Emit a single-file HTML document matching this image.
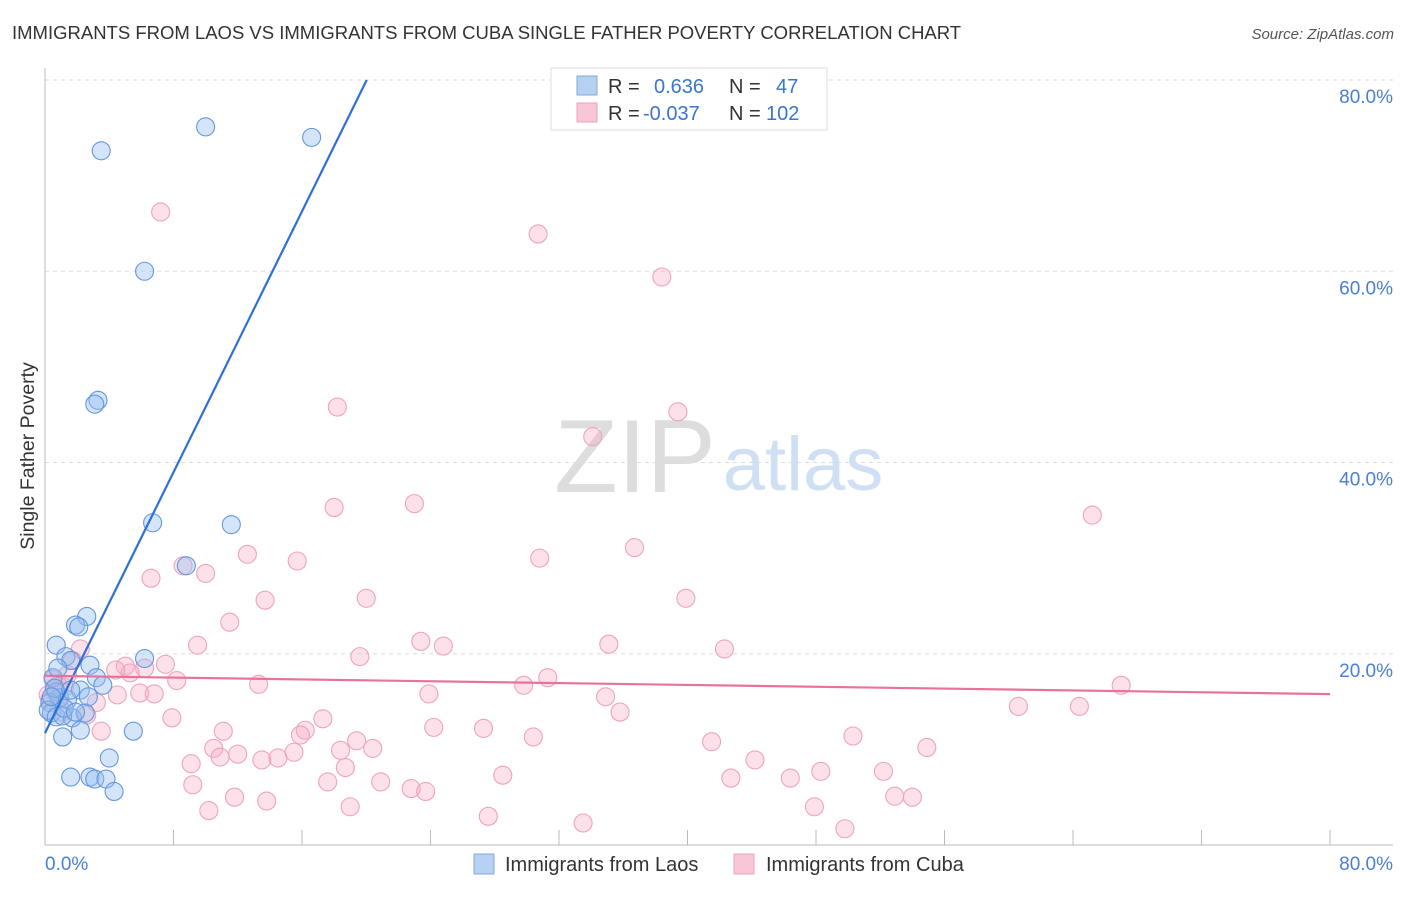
<!DOCTYPE html>
<html><head><meta charset="utf-8"><style>
body{margin:0;background:#fff;font-family:"Liberation Sans",sans-serif}
svg text{font-family:"Liberation Sans",sans-serif}
</style></head><body>
<svg id="chart" width="1406" height="892">
<text x="12" y="39" font-size="18.5" fill="#333">IMMIGRANTS FROM LAOS VS IMMIGRANTS FROM CUBA SINGLE FATHER POVERTY CORRELATION CHART</text>
<text x="1394" y="39" font-size="15" fill="#555" font-style="italic" text-anchor="end">Source: ZipAtlas.com</text>
<text x="34" y="456" font-size="19.5" fill="#333" text-anchor="middle" transform="rotate(-90 34 456)">Single Father Poverty</text>
<g>
<text x="635" y="492" font-size="104" fill="#ddd" font-family="Liberation Serif,serif" text-anchor="middle">ZIP</text>
<text x="803" y="490" font-size="76" fill="#cfe0f4" text-anchor="middle">atlas</text>
</g>
<g id="grid"></g><g id="pts"></g><g id="lines"></g>
<g>
<rect x="551" y="68" width="276" height="62" fill="#fff" stroke="#ddd"/>
<rect x="577" y="76" width="20" height="19" fill="#b7d1f3" stroke="#7fa8e3"/>
<rect x="577" y="103" width="20" height="19" fill="#f9c6d6" stroke="#eca1bb"/>
<text x="608" y="93" font-size="20" fill="#333">R =</text><text x="654" y="93" font-size="20" fill="#3a75d0">0.636</text>
<text x="729" y="93" font-size="20" fill="#333">N =</text><text x="776" y="93" font-size="20" fill="#3a75d0">47</text>
<text x="608" y="120" font-size="20" fill="#333">R =</text><text x="643" y="120" font-size="20" fill="#3a75d0">-0.037</text>
<text x="729" y="120" font-size="20" fill="#333">N =</text><text x="766" y="120" font-size="20" fill="#3a75d0">102</text>
</g>
<g>
<rect x="474" y="854" width="20" height="20" fill="#b7d1f3" stroke="#7fa8e3"/>
<text x="505" y="871" font-size="20" fill="#333">Immigrants from Laos</text>
<rect x="734" y="854" width="20" height="20" fill="#f9c6d6" stroke="#eca1bb"/>
<text x="766" y="871" font-size="20" fill="#333">Immigrants from Cuba</text>
</g>
</svg>
<script>
const yTicks=[20,40,60,80];
const xTicks=[0,8,16,24,32,40,48,56,64,72,80];
const xLabels=["0.0%","80.0%"];
const laosX=[10.0,3.5,16.6,6.2,3.3,3.1,6.7,11.6,8.8,2.6,1.9,2.1,0.7,6.2,1.3,1.6,2.8,3.2,3.6,0.5,0.7,2.2,2.7,0.9,0.3,1.4,0.4,0.2,0.7,1.7,1.1,2.5,2.2,1.1,5.5,4.0,1.6,2.8,3.1,3.8,4.3,0.6,0.4,1.6,1.2,0.8,1.9];
const laosY=[75.1,72.6,74.0,60.0,46.5,46.1,33.7,33.5,29.2,23.9,23.0,22.8,20.9,19.5,19.7,19.3,18.8,17.5,16.7,17.5,16.0,16.2,15.5,15.4,14.9,15.2,13.8,14.1,13.4,13.3,13.5,13.8,12.0,11.3,11.9,9.1,7.1,7.1,6.9,6.9,5.6,16.4,15.5,16.2,14.3,18.5,13.9];
const cubaX=[7.2,30.7,38.4,18.2,39.4,34.1,18.0,23.0,65.2,36.7,12.6,30.8,15.7,8.6,10.0,6.6,20.0,13.7,39.9,11.5,23.4,24.8,35.1,9.5,42.3,19.6,2.2,7.5,5.0,6.2,5.3,4.4,8.2,13.3,31.3,29.8,67.0,23.9,34.9,5.9,4.5,6.8,3.2,35.8,60.6,64.4,7.9,17.3,24.2,27.3,16.2,15.9,11.1,2.6,30.4,3.5,19.4,50.3,41.5,10.5,12.0,13.5,15.5,20.4,18.4,54.9,10.9,14.5,9.1,18.7,44.2,28.5,48.3,52.2,42.7,46.4,17.6,20.9,9.2,22.8,23.7,11.8,13.8,19.0,47.9,10.2,52.9,54.0,27.6,33.5,49.8,0.5,0.6,0.9,0.3,1.2,1.7,1.4,0.8,0.2,1.1];
const cubaY=[66.2,63.9,59.4,45.8,45.3,42.7,35.3,35.7,34.5,31.1,30.4,30.0,29.7,29.2,28.4,27.9,25.8,25.6,25.8,23.3,21.3,20.8,21.0,20.9,20.5,19.7,20.5,18.9,18.7,18.5,18.0,18.3,17.2,16.8,17.5,16.7,16.7,15.8,15.5,15.9,15.7,15.8,14.9,13.9,14.5,14.5,13.3,13.2,12.3,12.2,12.0,11.5,11.9,13.6,11.3,11.9,10.9,11.4,10.8,10.1,9.5,8.9,9.7,10.1,9.9,10.2,9.2,9.1,8.5,8.1,8.9,7.3,7.7,7.7,7.0,7.0,6.6,6.6,6.3,5.9,5.6,5.0,4.6,4.0,4.0,3.6,5.1,5.0,3.0,2.3,1.7,17.3,16.2,15.2,15.2,16.5,19.3,17.8,16.7,15.7,13.9];
const laosTrend=[11.7,3.41];
const cubaTrend=[17.7,-0.024];
const X=v=>45+v/80*1285, Y=v=>845-v/80*765;
const NS="http://www.w3.org/2000/svg";
function mk(t,a,p){const e=document.createElementNS(NS,t);for(const k in a)e.setAttribute(k,a[k]);p.appendChild(e);return e;}
const grid=document.getElementById('grid');
yTicks.forEach(t=>{
 const l=mk('line',{x1:45,x2:1393,y1:Y(t),y2:Y(t),stroke:'#ddd','stroke-dasharray':'4,4'},grid);
 
 
 const tx=mk('text',{x:1393,y:Y(t)+23,'font-size':19,fill:'#4a7fd4','text-anchor':'end'},grid);
 tx.textContent=t.toFixed(1)+'%';
 
 
});
const ax=mk('path',{d:'M45 68V845H1393',fill:'none',stroke:'#bbb'},grid);


xTicks.forEach(t=>{
 const l=mk('line',{x1:X(t),x2:X(t),y1:830,y2:845,stroke:'#bbb'},grid);
 
 
});
const xl0=mk('text',{x:45,y:870,'font-size':19,fill:'#4a7fd4'},grid);xl0.textContent=xLabels[0];


const xl1=mk('text',{x:1393,y:870,'font-size':19,fill:'#4a7fd4','text-anchor':'end'},grid);xl1.textContent=xLabels[1];


const pts=document.getElementById('pts');
cubaX.forEach((v,i)=>{
 const c=mk('circle',{cx:X(v),cy:Y(cubaY[i]),r:9,fill:'rgba(246,170,196,0.35)',stroke:'#eea3bd','stroke-width':1.1},pts);
 
 
});
laosX.forEach((v,i)=>{
 const c=mk('circle',{cx:X(v),cy:Y(laosY[i]),r:9,fill:'rgba(147,190,240,0.4)',stroke:'#6596dc','stroke-width':1.1},pts);
 
 
});
const lines=document.getElementById('lines');
const xEnd=(80-laosTrend[0])/laosTrend[1];
const bl=mk('line',{x1:X(0),y1:Y(laosTrend[0]),x2:X(xEnd),y2:Y(80),stroke:'#2f6fd6','stroke-width':2.2},lines);


const pl=mk('line',{x1:X(0),y1:Y(cubaTrend[0]),x2:X(80),y2:Y(cubaTrend[0]+cubaTrend[1]*80),stroke:'#e8739a','stroke-width':2.2},lines);


</script>
</body></html>
